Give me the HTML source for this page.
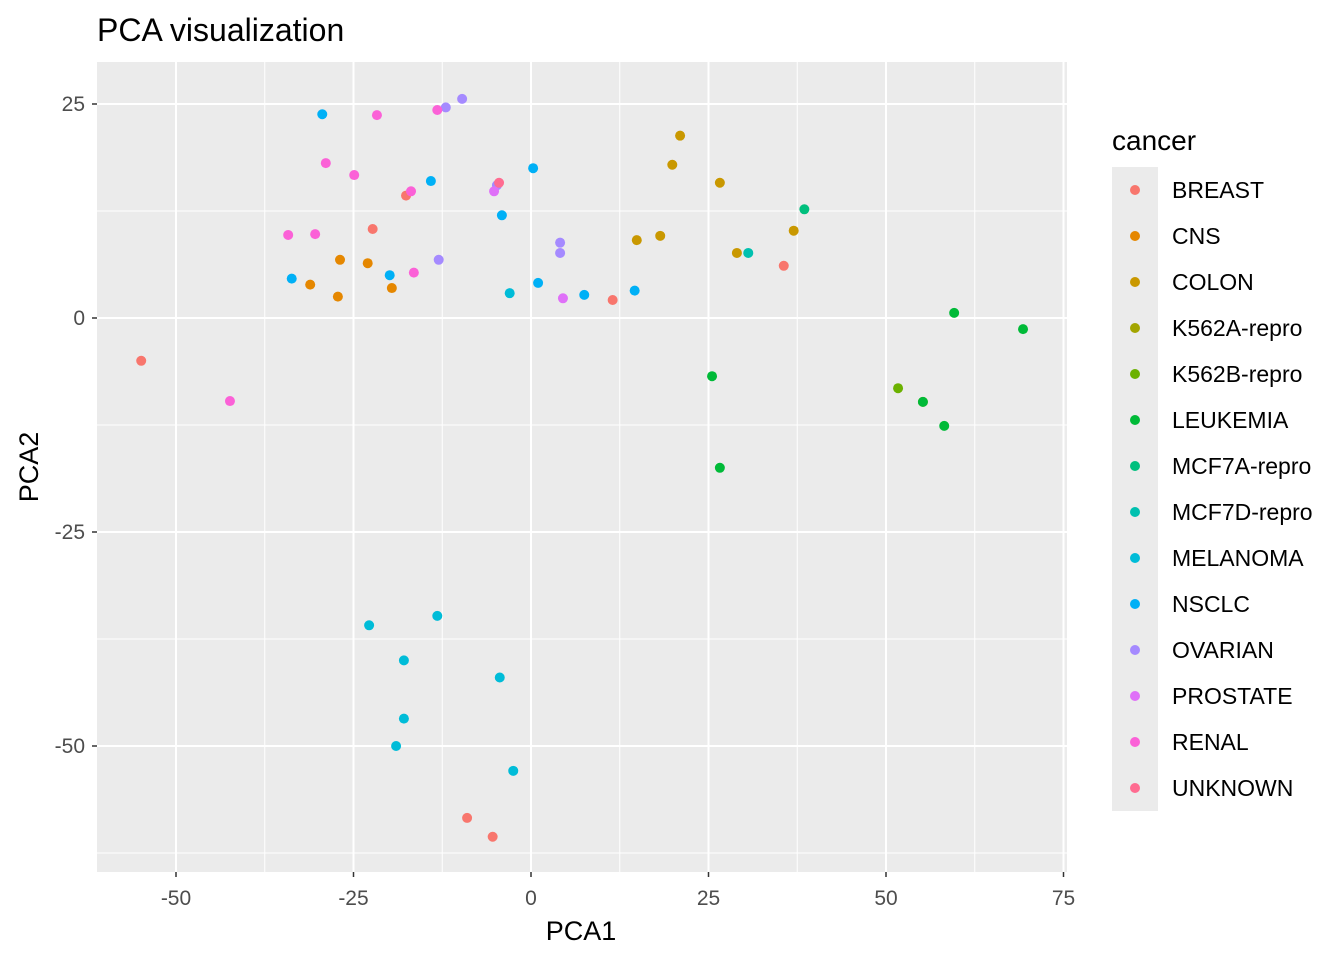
<!DOCTYPE html>
<html><head><meta charset="utf-8"><style>
body{margin:0;background:#fff;font-family:"Liberation Sans",sans-serif}
</style></head><body>
<svg id="chart" width="1344" height="960" xmlns="http://www.w3.org/2000/svg" font-family="Liberation Sans, sans-serif">
<text x="97" y="41" font-size="32" fill="#000">PCA visualization</text>
<rect x="97" y="62" width="970" height="810" fill="#EBEBEB"/>
<g id="grid"></g>
<g id="pts"></g>
<g id="axes"></g>
<text x="581" y="940" font-size="27" text-anchor="middle">PCA1</text>
<text transform="translate(38,467) rotate(-90)" font-size="27" text-anchor="middle">PCA2</text>
<g id="legend">
<text x="1112" y="150" font-size="28">cancer</text>
<rect x="1112" y="167" width="46" height="644" fill="#EBEBEB"/>
</g>
</svg>
<script>
const categories=["BREAST","CNS","COLON","K562A-repro","K562B-repro","LEUKEMIA","MCF7A-repro","MCF7D-repro","MELANOMA","NSCLC","OVARIAN","PROSTATE","RENAL","UNKNOWN"];
const colors=["#F8766D","#E58700","#C99800","#A3A500","#6BB100","#00BA38","#00BF7D","#00C0AF","#00BCD8","#00B0F6","#A58AFF","#DF70F8","#FB61D7","#FF6C91"];
const pca1=[
[-54.9,11.5,35.6,-17.6,-22.3,-9.0,-5.4],
[-26.9,-31.1,-27.2,-23.0,-19.6],
[21.0,19.9,26.6,14.9,18.2,29.0,37.0],
[55.2],[51.7],
[59.6,69.3,25.5,55.2,58.2,26.6],
[38.5],[30.6],
[-22.8,-13.2,-17.9,-4.4,-17.9,-19.0,-2.5,-3.0],
[-29.4,-14.1,0.3,-4.1,-33.7,-19.9,1.0,7.5,14.6],
[-12.0,-9.7,4.1,4.1,-13.0,-4.8],
[-5.2,4.5],
[-34.2,-30.4,-28.9,-24.9,-21.7,-13.2,-16.9,-16.5,-42.4],
[-4.5]];
const pca2=[
[-5.0,2.1,6.1,14.3,10.4,-58.4,-60.6],
[6.8,3.9,2.5,6.4,3.5],
[21.3,17.9,15.8,9.1,9.6,7.6,10.2],
[-9.8],[-8.2],
[0.6,-1.3,-6.8,-9.8,-12.6,-17.5],
[12.7],[7.6],
[-35.9,-34.8,-40.0,-42.0,-46.8,-50.0,-52.9,2.9],
[23.8,16.0,17.5,12.0,4.6,5.0,4.1,2.7,3.2],
[24.6,25.6,8.8,7.6,6.8,15.5],
[14.8,2.3],
[9.7,9.8,18.1,16.7,23.7,24.3,14.8,5.3,-9.7],
[15.8]];
const xTicks=[-50,-25,0,25,50,75];
const yTicks=[25,0,-25,-50];
const xMinor=[-62.5,-37.5,-12.5,12.5,37.5,62.5];
const yMinor=[12.5,-12.5,-37.5,-62.5];
const NS="http://www.w3.org/2000/svg";
const X=v=>531+v*7.1, Y=v=>318-v*8.56;
const grid=document.getElementById('grid'),axes=document.getElementById('axes'),pts=document.getElementById('pts'),leg=document.getElementById('legend');
function mk(t,a,p){const e=document.createElementNS(NS,t);for(const k in a)e.setAttribute(k,a[k]);p.appendChild(e);return e;}
xMinor.forEach(v=>{if(X(v)<97||X(v)>1067)return;const l=mk('line',{x1:X(v),x2:X(v),y1:62,y2:872,stroke:'#fff','stroke-width':1},grid);

});
yMinor.forEach(v=>{const l=mk('line',{x1:97,x2:1067,y1:Y(v),y2:Y(v),stroke:'#fff','stroke-width':1},grid);

});
xTicks.forEach(v=>{const l=mk('line',{x1:X(v),x2:X(v),y1:62,y2:872,stroke:'#fff','stroke-width':2},grid);


const k=mk('line',{x1:X(v),x2:X(v),y1:872,y2:877,stroke:'#333','stroke-width':1.5},axes);


const t=mk('text',{x:X(v),y:905,'font-size':21,fill:'#4D4D4D','text-anchor':'middle'},axes);t.textContent=v;

});
yTicks.forEach(v=>{const l=mk('line',{x1:97,x2:1067,y1:Y(v),y2:Y(v),stroke:'#fff','stroke-width':2},grid);


const k=mk('line',{x1:92,x2:97,y1:Y(v),y2:Y(v),stroke:'#333','stroke-width':1.5},axes);


const t=mk('text',{x:85,y:Y(v)+7,'font-size':21,fill:'#4D4D4D','text-anchor':'end'},axes);t.textContent=v;

});
categories.forEach((c,i)=>{pca1[i].forEach((x,j)=>{const p=mk('circle',{cx:X(x),cy:Y(pca2[i][j]),r:5,fill:colors[i]},pts);

});
const cy=190+i*46;
const d=mk('circle',{cx:1135,cy:cy,r:5,fill:colors[i]},leg);


const t=mk('text',{x:1172,y:cy+8,'font-size':23,fill:'#000'},leg);t.textContent=c;

});
</script>
</body></html>
